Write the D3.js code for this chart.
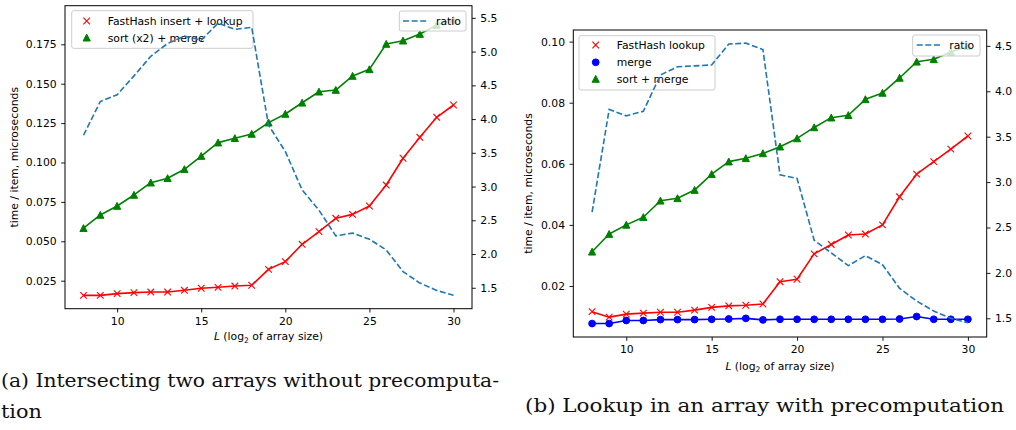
<!DOCTYPE html>
<html>
<head>
<meta charset="utf-8">
<script src="https://cdn.jsdelivr.net/npm/d3@7"></script>
<style>
  body { margin: 0; background: #fff; }
  .chart text { font-family: "DejaVu Sans", sans-serif; }
</style>
</head>
<body>
<div class="chart"></div>
<script>
var width = 1016;
var height = 430;

// L values (log2 of array size)
let sizes = [8, 9, 10, 11, 12, 13, 14, 15, 16, 17, 18, 19, 20, 21, 22, 23, 24, 25, 26, 27, 28, 29, 30];

// (a) intersecting two arrays
let insertLookup = [0.0157, 0.0157, 0.0168, 0.0174, 0.0178, 0.0178, 0.0189, 0.0202, 0.0208, 0.0216, 0.0221,
  0.0322, 0.0371, 0.0481, 0.0561, 0.0646, 0.0671, 0.0724, 0.0857, 0.1027, 0.1160, 0.1287, 0.1365];
let sortTwiceMerge = [0.0583, 0.0667, 0.0724, 0.0794, 0.0872, 0.0900, 0.0957, 0.1041, 0.1126, 0.1154, 0.1181,
  0.1253, 0.1308, 0.1379, 0.1449, 0.1460, 0.1549, 0.1591, 0.1752, 0.1773, 0.1815, 0.1872, 0.1905];
let ratioA = [3.76, 4.26, 4.36, 4.64, 4.93, 5.12, 5.23, 5.17, 5.42, 5.33, 5.36,
  3.91, 3.52, 2.95, 2.65, 2.27, 2.31, 2.22, 2.06, 1.74, 1.57, 1.46, 1.39];

// (b) lookup with precomputation
let hashLookup = [0.0116, 0.0098, 0.0108, 0.0111, 0.0114, 0.0114, 0.0121, 0.0130, 0.0135, 0.0137, 0.0141,
  0.0214, 0.0222, 0.0305, 0.0336, 0.0367, 0.0370, 0.0400, 0.0492, 0.0566, 0.0607, 0.0648, 0.0691];
let mergeOnly = [0.0077, 0.0077, 0.0087, 0.0087, 0.0090, 0.0090, 0.0090, 0.0091, 0.0092, 0.0094, 0.0089,
  0.0091, 0.0091, 0.0091, 0.0091, 0.0091, 0.0091, 0.0091, 0.0092, 0.0100, 0.0091, 0.0091, 0.0091];
let sortMerge = [0.0312, 0.0370, 0.0400, 0.0425, 0.0479, 0.0487, 0.0514, 0.0566, 0.0607, 0.0618, 0.0634,
  0.0656, 0.0683, 0.0719, 0.0751, 0.0759, 0.0811, 0.0832, 0.0881, 0.0934, 0.0942, 0.0966, 0.0985];
let ratioB = [2.67, 3.80, 3.73, 3.78, 4.18, 4.27, 4.28, 4.29, 4.52, 4.53, 4.46,
  3.08, 3.04, 2.36, 2.22, 2.08, 2.19, 2.09, 1.83, 1.69, 1.58, 1.50, 1.45];

// tick labels
let ticksX = [10, 15, 20, 25, 30];
let ticksTimeA = [0.025, 0.050, 0.075, 0.100, 0.125, 0.150, 0.175];
let ticksRatioA = [1.5, 2.0, 2.5, 3.0, 3.5, 4.0, 4.5, 5.0, 5.5];
let ticksTimeB = [0.02, 0.04, 0.06, 0.08, 0.10];
let ticksRatioB = [1.5, 2.0, 2.5, 3.0, 3.5, 4.0, 4.5];

let fontSize = 10.8;

let svg = d3.select('.chart')
  .append('svg')
  .attr('width', width)
  .attr('height', height);

let panels = [
  {
    box: {left: 65, right: 472, top: 5.7, bottom: 308.7},
    timeDomain: [0.00723, 0.1995], ratioDomain: [1.19, 5.68],
    timeTicks: ticksTimeA, timeFmt: '.3f', ratioTicks: ticksRatioA,
    series: [
      {name: 'FastHash insert + lookup', values: insertLookup, color: 'red', marker: 'x'},
      {name: 'sort (x2) + merge', values: sortTwiceMerge, color: 'green', marker: '^'}
    ],
    ratio: ratioA,
    yLabelX: 17.8, xLabelY: 340,
    legend: {x: 71.7, y: 10.7, w: 181.3, h: 37.6, rows: [21, 37.7], mx: 86.7, tx: 107.7},
    ratioLegend: {x: 399.3, y: 11, w: 66.7, h: 20, row: 21, lx: [403, 428], tx: 436}
  },
  {
    box: {left: 573.3, right: 986.7, top: 30, bottom: 337},
    timeDomain: [0.0033, 0.1038], ratioDomain: [1.294, 4.675],
    timeTicks: ticksTimeB, timeFmt: '.2f', ratioTicks: ticksRatioB,
    series: [
      {name: 'FastHash lookup', values: hashLookup, color: 'red', marker: 'x'},
      {name: 'merge', values: mergeOnly, color: 'blue', marker: 'o'},
      {name: 'sort + merge', values: sortMerge, color: 'green', marker: '^'}
    ],
    ratio: ratioB,
    yLabelX: 531.5, xLabelY: 369.5,
    legend: {x: 579, y: 35.7, w: 136, h: 54.3, rows: [45, 62.3, 79], mx: 595.7, tx: 616.7},
    ratioLegend: {x: 912.7, y: 35, w: 67.3, h: 21, row: 45, lx: [916.7, 941.7], tx: 949.3}
  }
];

function drawMarker(g, type, color, x, y) {
  let s = 3.3;
  if (type == 'x') {
    g.append('path')
      .attr('d', `M${x - s},${y - s}L${x + s},${y + s}M${x - s},${y + s}L${x + s},${y - s}`)
      .style('stroke', color).style('stroke-width', 1.1).style('fill', 'none');
  } else if (type == 'o') {
    g.append('circle')
      .attr('cx', x).attr('cy', y).attr('r', 3.4)
      .style('fill', color).style('stroke', color).style('stroke-width', 1);
  } else {
    g.append('path')
      .attr('d', `M${x},${y - s - 0.3}L${x + s + 0.3},${y + s}L${x - s - 0.3},${y + s}Z`)
      .style('fill', color).style('stroke', color).style('stroke-width', 1);
  }
}

function legendFrame(g, l) {
  g.append('rect')
    .attr('x', l.x).attr('y', l.y)
    .attr('width', l.w).attr('height', l.h)
    .attr('rx', 2).attr('ry', 2)
    .style('fill', 'white').style('fill-opacity', 0.8)
    .style('stroke', '#cccccc').style('stroke-width', 1);
}

panels.forEach(p => {
  let b = p.box;
  let xScale = d3.scaleLinear().domain([6.9, 31.1]).range([b.left, b.right]);
  let yScale = d3.scaleLinear().domain(p.timeDomain).range([b.bottom, b.top]);
  let rScale = d3.scaleLinear().domain(p.ratioDomain).range([b.bottom, b.top]);

  let g = svg.append('g');

  // time series on the left axis
  p.series.forEach(s => {
    let line = d3.line()
      .x((d, i) => xScale(sizes[i]))
      .y(d => yScale(d));
    g.append('path')
      .datum(s.values)
      .attr('d', line)
      .style('fill', 'none')
      .style('stroke', s.color)
      .style('stroke-width', 1.6)
      .style('stroke-linejoin', 'round');
    let mg = g.append('g');
    s.values.forEach((v, i) => drawMarker(mg, s.marker, s.color, xScale(sizes[i]), yScale(v)));
  });

  // first legend
  let lg = g.append('g');
  legendFrame(lg, p.legend);
  p.series.forEach((s, i) => {
    drawMarker(lg, s.marker, s.color, p.legend.mx, p.legend.rows[i]);
    lg.append('text')
      .attr('x', p.legend.tx).attr('y', p.legend.rows[i])
      .attr('dy', '0.36em')
      .style('font-size', fontSize + 'px')
      .style('fill', 'black')
      .text(s.name);
  });

  // ratio on the twin axis
  g.append('path')
    .datum(p.ratio)
    .attr('d', d3.line().x((d, i) => xScale(sizes[i])).y(d => rScale(d)))
    .style('fill', 'none')
    .style('stroke', '#1f77b4')
    .style('stroke-width', 1.6)
    .style('stroke-dasharray', '6,2.6');

  // axes
  let xAxis = d3.axisBottom(xScale).tickValues(ticksX).tickSize(3.8).tickPadding(4.5).tickSizeOuter(0);
  let yAxis = d3.axisLeft(yScale).tickValues(p.timeTicks).tickFormat(d3.format(p.timeFmt))
    .tickSize(3.8).tickPadding(4.5).tickSizeOuter(0);
  let rAxis = d3.axisRight(rScale).tickValues(p.ratioTicks).tickFormat(d3.format('.1f'))
    .tickSize(3.8).tickPadding(4.5).tickSizeOuter(0);

  [[xAxis, `translate(0, ${b.bottom})`], [yAxis, `translate(${b.left}, 0)`], [rAxis, `translate(${b.right}, 0)`]]
    .forEach(a => {
      let ag = g.append('g').attr('transform', a[1]).call(a[0]);
      ag.select('.domain').remove();
      ag.selectAll('line').style('stroke', 'black').style('stroke-width', 0.9);
      ag.selectAll('text')
        .attr('font-family', null)
        .style('font-size', fontSize + 'px')
        .style('fill', 'black');
    });

  g.append('rect')
    .attr('x', b.left).attr('y', b.top)
    .attr('width', b.right - b.left).attr('height', b.bottom - b.top)
    .style('fill', 'none').style('stroke', 'black').style('stroke-width', 1);

  // axis labels
  g.append('text')
    .attr('transform', `translate(${p.yLabelX}, ${(b.top + b.bottom) / 2}) rotate(-90)`)
    .style('text-anchor', 'middle')
    .style('font-size', fontSize + 'px')
    .text('time / item, microseconds');

  let xl = g.append('text')
    .attr('x', (b.left + b.right) / 2).attr('y', p.xLabelY)
    .style('text-anchor', 'middle')
    .style('font-size', fontSize + 'px');
  xl.append('tspan').style('font-style', 'italic').text('L');
  xl.append('tspan').text(' (log');
  xl.append('tspan').attr('dy', 2.6).style('font-size', '7.6px').text('2');
  xl.append('tspan').attr('dy', -2.6).text(' of array size)');

  // ratio legend
  let rl = g.append('g');
  let l2 = p.ratioLegend;
  legendFrame(rl, l2);
  rl.append('line')
    .attr('x1', l2.lx[0]).attr('x2', l2.lx[1])
    .attr('y1', l2.row).attr('y2', l2.row)
    .style('stroke', '#1f77b4').style('stroke-width', 1.6)
    .style('stroke-dasharray', '6,2.6');
  rl.append('text')
    .attr('x', l2.tx).attr('y', l2.row).attr('dy', '0.36em')
    .style('font-size', fontSize + 'px')
    .text('ratio');
});

// sub-figure captions
let captions = [
  {text: '(a) Intersecting two arrays without precomputa-', x: 1, y: 387.3, len: 498},
  {text: 'tion', x: 1, y: 418.3, len: 41},
  {text: '(b) Lookup in an array with precomputation', x: 525, y: 411.7, len: 479}
];
svg.selectAll('.caption')
  .data(captions)
  .enter()
  .append('text')
  .attr('class', 'caption')
  .attr('x', d => d.x)
  .attr('y', d => d.y)
  .attr('textLength', d => d.len)
  .attr('lengthAdjust', 'spacingAndGlyphs')
  .style('font-family', '"DejaVu Serif", serif')
  .style('font-size', '18.5px')
  .style('fill', '#111')
  .text(d => d.text);
</script>
</body>
</html>
